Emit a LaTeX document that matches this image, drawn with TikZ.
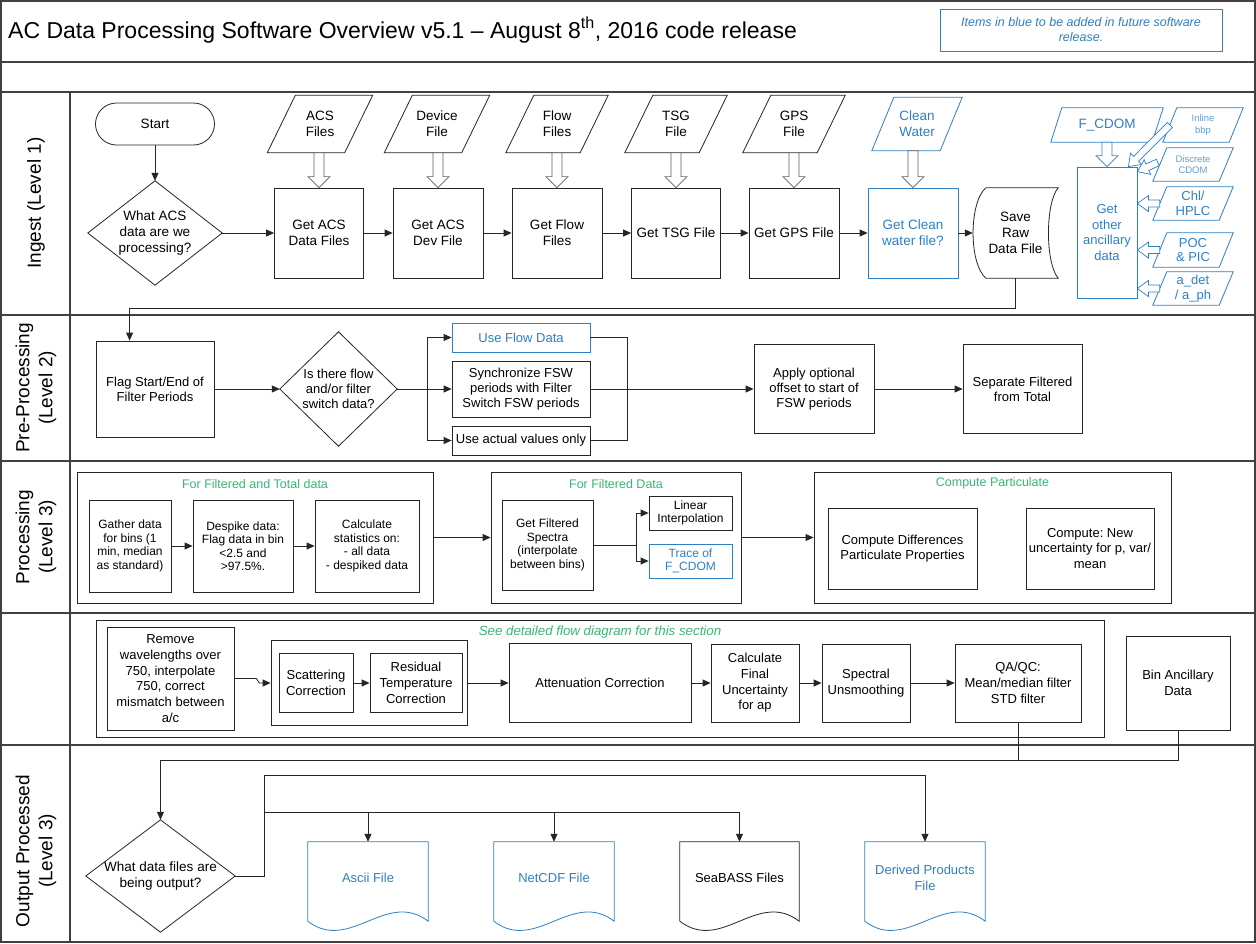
\documentclass[tikz,border=0pt]{standalone}
\usepackage{fontspec}
\setmainfont{Liberation Sans}
\usetikzlibrary{arrows.meta,calc}
\frenchspacing

\definecolor{ablue}{RGB}{46,128,196}
\definecolor{agreen}{RGB}{58,182,118}
\definecolor{aink}{RGB}{38,38,38}
\definecolor{alane}{RGB}{64,64,64}
\definecolor{agrey}{RGB}{95,95,95}

\newcommand{\fsz}[2]{\fontsize{#1}{#2}\selectfont}
% hollow block arrow from \tikztostart to \tikztotarget: #1 half shaft, #2 half head, #3 head length
\newcommand{\hollowpath}[3]{let \p1=($(\tikztotarget)!#3!(\tikztostart)$) in
  ($(\tikztostart)!#1!90:(\tikztotarget)$) -- ($(\p1)!#1!90:(\tikztotarget)$) --
  ($(\p1)!#2!90:(\tikztotarget)$) -- (\tikztotarget) -- ($(\p1)!#2!-90:(\tikztotarget)$) --
  ($(\p1)!#1!-90:(\tikztotarget)$) -- ($(\tikztostart)!#1!-90:(\tikztotarget)$) -- cycle}
% outlines drawn around plain text nodes
\newcommand{\drawpara}[3]{\draw[#3] (#1.south west) -- ($(#1.south east)+(-#2,0)$) -- (#1.north east) -- ($(#1.north west)+(#2,0)$) -- cycle;}
\newcommand{\drawdiamond}[2]{\draw[#2] (#1.north) -- (#1.east) -- (#1.south) -- (#1.west) -- cycle;}
\newcommand{\drawdoc}[2]{\draw[#2] ($(#1.south west)+(0,7)$) -- (#1.north west) -- (#1.north east) -- ($(#1.south east)+(0,7)$) .. controls ($(#1.south east)+(-42,-25)$) and ($(#1.south west)+(42,39)$) .. ($(#1.south west)+(0,7)$);}

\tikzset{
  base/.style={draw=aink, line width=0.8pt, fill=white, align=center, inner sep=1pt, text=black},
  bluebox/.style={base, draw=ablue, text=ablue},
  ghost/.style={draw=none, fill=none, align=center, inner sep=0pt},
  lnk/.style={draw=aink, line width=0.8pt},
  bluelnk/.style={draw=ablue, line width=0.8pt},
  arr/.style={lnk, -{Triangle[length=8pt,width=7pt]}},
  hollow/.style={draw=agrey, fill=white, line width=0.7pt, to path={\hollowpath{5pt}{11pt}{11pt}}},
  hollowblue/.style={draw=ablue, fill=white, line width=0.7pt, to path={\hollowpath{5pt}{11pt}{11pt}}},
  hollowsm/.style={draw=ablue, fill=white, line width=0.7pt, to path={\hollowpath{3.5pt}{8pt}{11pt}}},
  lane/.style={draw=alane, line width=1.8pt},
  ttl/.style={text=agreen, font=\fsz{12.5}{14}},
  lanelbl/.style={rotate=90, align=center, font=\fsz{19}{23}, text=black},
  fa/.style={font=\fsz{13.5}{16}},
  fb/.style={font=\fsz{13}{15}},
  fc/.style={font=\fsz{12}{13.5}},
  fd/.style={font=\fsz{13}{15.7}},
  fs/.style={font=\fsz{9.5}{11.5}}
}

\begin{document}
\begin{tikzpicture}[x=1pt,y=-1pt]
\path[use as bounding box, fill=white] (0,0) rectangle (1256,943);

% ---------- frame and swimlanes ----------
\draw[lane] (1,1) rectangle (1255,942);
\foreach \yy in {62,92,315,461,613,745} \draw[lane] (1,\yy) -- (1255,\yy);
\draw[lane] (70,92) -- (70,942);

% ---------- header ----------
\node[anchor=base west, font=\fsz{23}{27}, inner sep=0pt] (title) at (8,38)
  {AC Data Processing Software Overview v5.1 – August 8\textsuperscript{th}, 2016 code release};
\node[draw=ablue, line width=0.8pt, minimum width=282pt, minimum height=42pt, align=center,
  text=ablue, font=\fsz{12.5}{15}\itshape] (legend) at (1081,30)
  {Items in blue to be added in future software\\release.};

% ---------- lane labels ----------
\node[lanelbl] (lab1) at (36,203) {Ingest (Level 1)};
\node[lanelbl] (lab2) at (36,388) {Pre-Processing\\(Level 2)};
\node[lanelbl] (lab3) at (36,537) {Processing\\(Level 3)};
\node[lanelbl] (lab5) at (36,851) {Output Processed\\(Level 3)};

% ---------- Ingest ----------
\node[base, fa, minimum width=119pt, minimum height=42pt, rounded corners=21pt] (start) at (155,124) {Start};
\node[ghost, fa, minimum width=134pt, minimum height=104pt] (dia1) at (155,233) {What ACS\\data are we\\processing?};
\drawdiamond{dia1}{lnk}

\node[base, fa, minimum width=89pt, minimum height=90pt] (getacs) at (319,233) {Get ACS\\Data Files};
\node[base, fa, minimum width=90pt, minimum height=90pt] (getdev) at (438,233) {Get ACS\\Dev File};
\node[base, fa, minimum width=90pt, minimum height=90pt] (getflow) at (557,233) {Get Flow\\Files};
\node[base, fa, minimum width=89pt, minimum height=90pt] (gettsg) at (676,233) {Get TSG File};
\node[base, fa, minimum width=90pt, minimum height=90pt] (getgps) at (794,233) {Get GPS File};
\node[bluebox, fa, minimum width=90pt, minimum height=90pt] (getclean) at (913,233) {Get Clean\\water file?};
\node[ghost, fa, minimum width=85pt, minimum height=90pt] (saveraw) at (1015.5,233) {Save\\Raw\\Data File};
\draw[lnk] ($(saveraw.north west)+(13,0)$) -- (saveraw.north east)
  .. controls ($(saveraw.north east)+(-13,15)$) and ($(saveraw.south east)+(-13,-15)$) .. (saveraw.south east)
  -- ($(saveraw.south west)+(13,0)$)
  .. controls ($(saveraw.south west)+(-4,-15)$) and ($(saveraw.north west)+(-4,15)$) .. ($(saveraw.north west)+(13,0)$);

\node[ghost, fa, minimum width=105pt, minimum height=57pt] (acsf) at (320,124) {ACS\\Files};
\node[ghost, fa, minimum width=105pt, minimum height=57pt] (devf) at (437,124) {Device\\File};
\node[ghost, fa, minimum width=102pt, minimum height=57pt] (flowf) at (557,124) {Flow\\Files};
\node[ghost, fa, minimum width=102pt, minimum height=57pt] (tsgf) at (676,124) {TSG\\File};
\node[ghost, fa, minimum width=102pt, minimum height=57pt] (gpsf) at (794,124) {GPS\\File};
\node[ghost, fa, text=ablue, minimum width=90pt, minimum height=53pt] (cleanf) at (917,124) {Clean\\Water};
\drawpara{acsf}{28}{lnk}
\drawpara{devf}{28}{lnk}
\drawpara{flowf}{28}{lnk}
\drawpara{tsgf}{28}{lnk}
\drawpara{gpsf}{28}{lnk}
\drawpara{cleanf}{22}{bluelnk}

\draw[hollow] (acsf.south -| getacs.north) to (getacs.north);
\draw[hollow] (devf.south -| getdev.north) to (getdev.north);
\draw[hollow] (flowf.south -| getflow.north) to (getflow.north);
\draw[hollow] (tsgf.south -| gettsg.north) to (gettsg.north);
\draw[hollow] (gpsf.south -| getgps.north) to (getgps.north);
\draw[hollow] (cleanf.south -| getclean.north) to (getclean.north);

\draw[arr] (start.south) -- (dia1.north);
\draw[arr] (dia1.east) -- (getacs.west);
\draw[arr] (getacs.east) -- (getdev.west);
\draw[arr] (getdev.east) -- (getflow.west);
\draw[arr] (getflow.east) -- (gettsg.west);
\draw[arr] (gettsg.east) -- (getgps.west);
\draw[arr] (getgps.east) -- (getclean.west);
\draw[arr] (getclean.east) -- (saveraw.west);

% other ancillary inputs
\node[bluebox, fd, minimum width=60pt, minimum height=131pt] (other) at (1107,232.5) {Get\\other\\ancillary\\data};
\node[ghost, fa, text=ablue, minimum width=112pt, minimum height=34pt] (fcdom) at (1107,125) {F\_CDOM};
\node[ghost, fs, text=ablue!75, minimum width=80pt, minimum height=34pt] (inl) at (1203,125) {Inline\\bbp};
\node[ghost, fs, text=ablue!75, minimum width=80pt, minimum height=33pt] (disc) at (1193,164.5) {Discrete\\CDOM};
\node[ghost, fd, text=ablue, font=\fsz{13}{14.5}, minimum width=80pt, minimum height=33pt] (chl) at (1193,203.5) {Chl/\\HPLC};
\node[ghost, fd, text=ablue, font=\fsz{13}{14.5}, minimum width=80pt, minimum height=34pt] (poc) at (1193,250) {POC\\\& PIC};
\node[ghost, fd, text=ablue, font=\fsz{13}{14.5}, minimum width=80pt, minimum height=33pt] (adet) at (1193,288.5) {a\_det\\/ a\_ph};
\drawpara{fcdom}{11}{bluelnk}
\drawpara{inl}{14}{bluelnk}
\drawpara{disc}{14}{bluelnk}
\drawpara{chl}{14}{bluelnk}
\drawpara{poc}{14}{bluelnk}
\drawpara{adet}{14}{bluelnk}

\draw[hollowblue] (fcdom.south) to (other.north);
\draw[hollowsm] ($(inl.west)+(7,0)$) to ($(other.north east)+(-9,0)$);
\draw[hollowsm] ($(disc.west)+(5,-2)$) to ($(other.north east)+(0,5)$);
\draw[hollowsm] ($(chl.west)+(7,0)$) to (other.east |- chl.west);
\draw[hollowsm] ($(poc.west)+(7,0)$) to (other.east |- poc.west);
\draw[hollowsm] ($(adet.west)+(7,0)$) to (other.east |- adet.west);

% ---------- Pre-Processing ----------
\node[base, fb, minimum width=118pt, minimum height=96pt] (flag) at (155,389) {Flag Start/End of\\Filter Periods};
\node[ghost, fb, minimum width=117pt, minimum height=114pt] (dia2) at (338.5,389) {Is there flow\\and/or filter\\switch data?};
\drawdiamond{dia2}{lnk}
\node[bluebox, fb, minimum width=138pt, minimum height=29pt] (useflow) at (521,337.5) {Use Flow Data};
\node[base, fb, minimum width=138pt, minimum height=56pt] (sync) at (521,389) {Synchronize FSW\\periods with Filter\\Switch FSW periods};
\node[base, fb, minimum width=138pt, minimum height=29pt] (useact) at (521,440.5) {Use actual values only};
\node[base, fb, minimum width=120pt, minimum height=89pt] (apply) at (814,389) {Apply optional\\offset to start of\\FSW periods};
\node[base, fb, minimum width=119pt, minimum height=89pt] (separate) at (1022.5,389) {Separate Filtered\\from Total};
\coordinate (spl) at (427,389);
\coordinate (spr) at (627,389);

\draw[arr] (saveraw.south) -- ++(0,30) -| ($(flag.north west)+(34,0)$);
\draw[arr] (flag.east) -- (dia2.west);
\draw[arr] (dia2.east) -- (sync.west);
\draw[arr] (spl) |- (useflow.west);
\draw[arr] (spl) |- (useact.west);
\draw[lnk] (useflow.east) -| (spr);
\draw[lnk] (useact.east) -| (spr);
\draw[arr] (sync.east) -- (apply.west);
\draw[arr] (apply.east) -- (separate.west);

% ---------- Processing ----------
\node[base, minimum width=356pt, minimum height=131pt] (g1) at (255,537.5) {};
\node[ttl] (t1) at (255,484) {For Filtered and Total data};
\node[base, fc, minimum width=82pt, minimum height=92pt] (gather) at (130,546) {Gather data\\for bins (1\\min, median\\as standard)};
\node[base, fc, minimum width=100pt, minimum height=92pt] (despike) at (243,546) {Despike data:\\Flag data in bin\\<2.5 and\\>97.5\%.};
\node[base, fc, minimum width=104pt, minimum height=92pt] (calcst) at (367,546) {Calculate\\statistics on:\\- all data\\- despiked data};
\draw[arr] (gather.east) -- (despike.west);
\draw[arr] (despike.east) -- (calcst.west);

\node[base, minimum width=250pt, minimum height=131pt] (g2) at (616,537.5) {};
\node[ttl] (t2) at (616,484) {For Filtered Data};
\node[base, fc, minimum width=91pt, minimum height=90pt] (getfilt) at (547.5,545) {Get Filtered\\Spectra\\(interpolate\\between bins)};
\node[base, fc, minimum width=83pt, minimum height=34pt] (linear) at (690.5,513) {Linear\\Interpolation};
\node[bluebox, fc, minimum width=83pt, minimum height=34pt] (trace) at (690.5,561) {Trace of\\F\_CDOM};
\coordinate (psp) at (636,545);
\draw[lnk] (getfilt.east) -- (psp);
\draw[arr] (psp) |- (linear.west);
\draw[arr] (psp) |- (trace.west);

\node[base, minimum width=357pt, minimum height=131pt] (g3) at (992.5,537.5) {};
\node[ttl] (t3) at (992.5,483) {Compute Particulate};
\node[base, fd, minimum width=149pt, minimum height=81pt] (compdiff) at (902.5,548.5) {Compute Differences\\Particulate Properties};
\node[base, fd, minimum width=128pt, minimum height=81pt] (compunc) at (1090,548.5) {Compute: New\\uncertainty for p, var/\\mean};

\draw[arr] (g1.east) -- (g2.west);
\draw[arr] (g2.east) -- (g3.west);

% ---------- Corrections ----------
\node[base, minimum width=1008pt, minimum height=117pt] (g4) at (600,678.5) {};
\node[ttl, font=\fsz{13.3}{15}\itshape] (t4) at (600,632) {See detailed flow diagram for this section};
\node[base, fd, minimum width=127pt, minimum height=103pt] (remove) at (170.5,678.5) {Remove\\wavelengths over\\750, interpolate\\750, correct\\mismatch between\\a/c};
\node[base, minimum width=196pt, minimum height=85pt] (inner) at (369,683) {};
\node[base, fd, minimum width=74pt, minimum height=59pt] (scat) at (316,683) {Scattering\\Correction};
\node[base, fd, minimum width=92pt, minimum height=59pt] (resid) at (416,683) {Residual\\Temperature\\Correction};
\node[base, fd, minimum width=182pt, minimum height=79pt] (atten) at (600,683) {Attenuation Correction};
\node[base, fd, minimum width=88pt, minimum height=78pt] (calcfin) at (755,683) {Calculate\\Final\\Uncertainty\\for ap};
\node[base, fd, minimum width=88pt, minimum height=78pt] (spectral) at (866,683) {Spectral\\Unsmoothing};
\node[base, fd, minimum width=126pt, minimum height=78pt] (qaqc) at (1018,683) {QA/QC:\\Mean/median filter\\STD filter};
\node[base, fd, minimum width=104pt, minimum height=94pt] (bin) at (1178,683) {Bin Ancillary\\Data};

\draw[arr] (remove.east) -- ++(22,0) -- ++(3,4.5) -- (inner.west);
\draw[arr] (scat.east) -- (resid.west);
\draw[arr] (inner.east) -- (atten.west);
\draw[arr] (atten.east) -- (calcfin.west);
\draw[arr] (calcfin.east) -- (spectral.west);
\draw[arr] (spectral.east) -- (qaqc.west);

% ---------- Output ----------
\coordinate (lowrail) at (0,760);
\node[ghost, font=\fsz{13.5}{16}, minimum width=149pt, minimum height=112pt] (outdia) at (160.5,876) {What data files are\\being output?};
\drawdiamond{outdia}{lnk}
\node[ghost, fd, text=ablue, minimum width=120pt, minimum height=72pt] (ascii) at (368,878) {Ascii File};
\node[ghost, fd, text=ablue, minimum width=120pt, minimum height=72pt] (netcdf) at (554,878) {NetCDF File};
\node[ghost, fd, minimum width=119pt, minimum height=72pt] (seabass) at (739.5,878) {SeaBASS Files};
\node[ghost, fd, text=ablue, minimum width=120pt, minimum height=72pt] (derived) at (925,878) {Derived Products\\File};
\drawdoc{ascii}{bluelnk}
\drawdoc{netcdf}{bluelnk}
\drawdoc{seabass}{lnk}
\drawdoc{derived}{bluelnk}

\draw[arr] (qaqc.south) -- (qaqc.south |- lowrail) -| (outdia.north);
\draw[lnk] (bin.south) |- (qaqc.south |- lowrail);

\coordinate (ob) at (264,775);
\coordinate (oc) at (264,812);
\draw[lnk] (outdia.east) -| (ob);
\draw[arr] (ob) -| (derived.north);
\draw[arr] (oc) -| (seabass.north);
\draw[arr] (oc -| ascii.north) -- (ascii.north);
\draw[arr] (oc -| netcdf.north) -- (netcdf.north);
\end{tikzpicture}
\end{document}
